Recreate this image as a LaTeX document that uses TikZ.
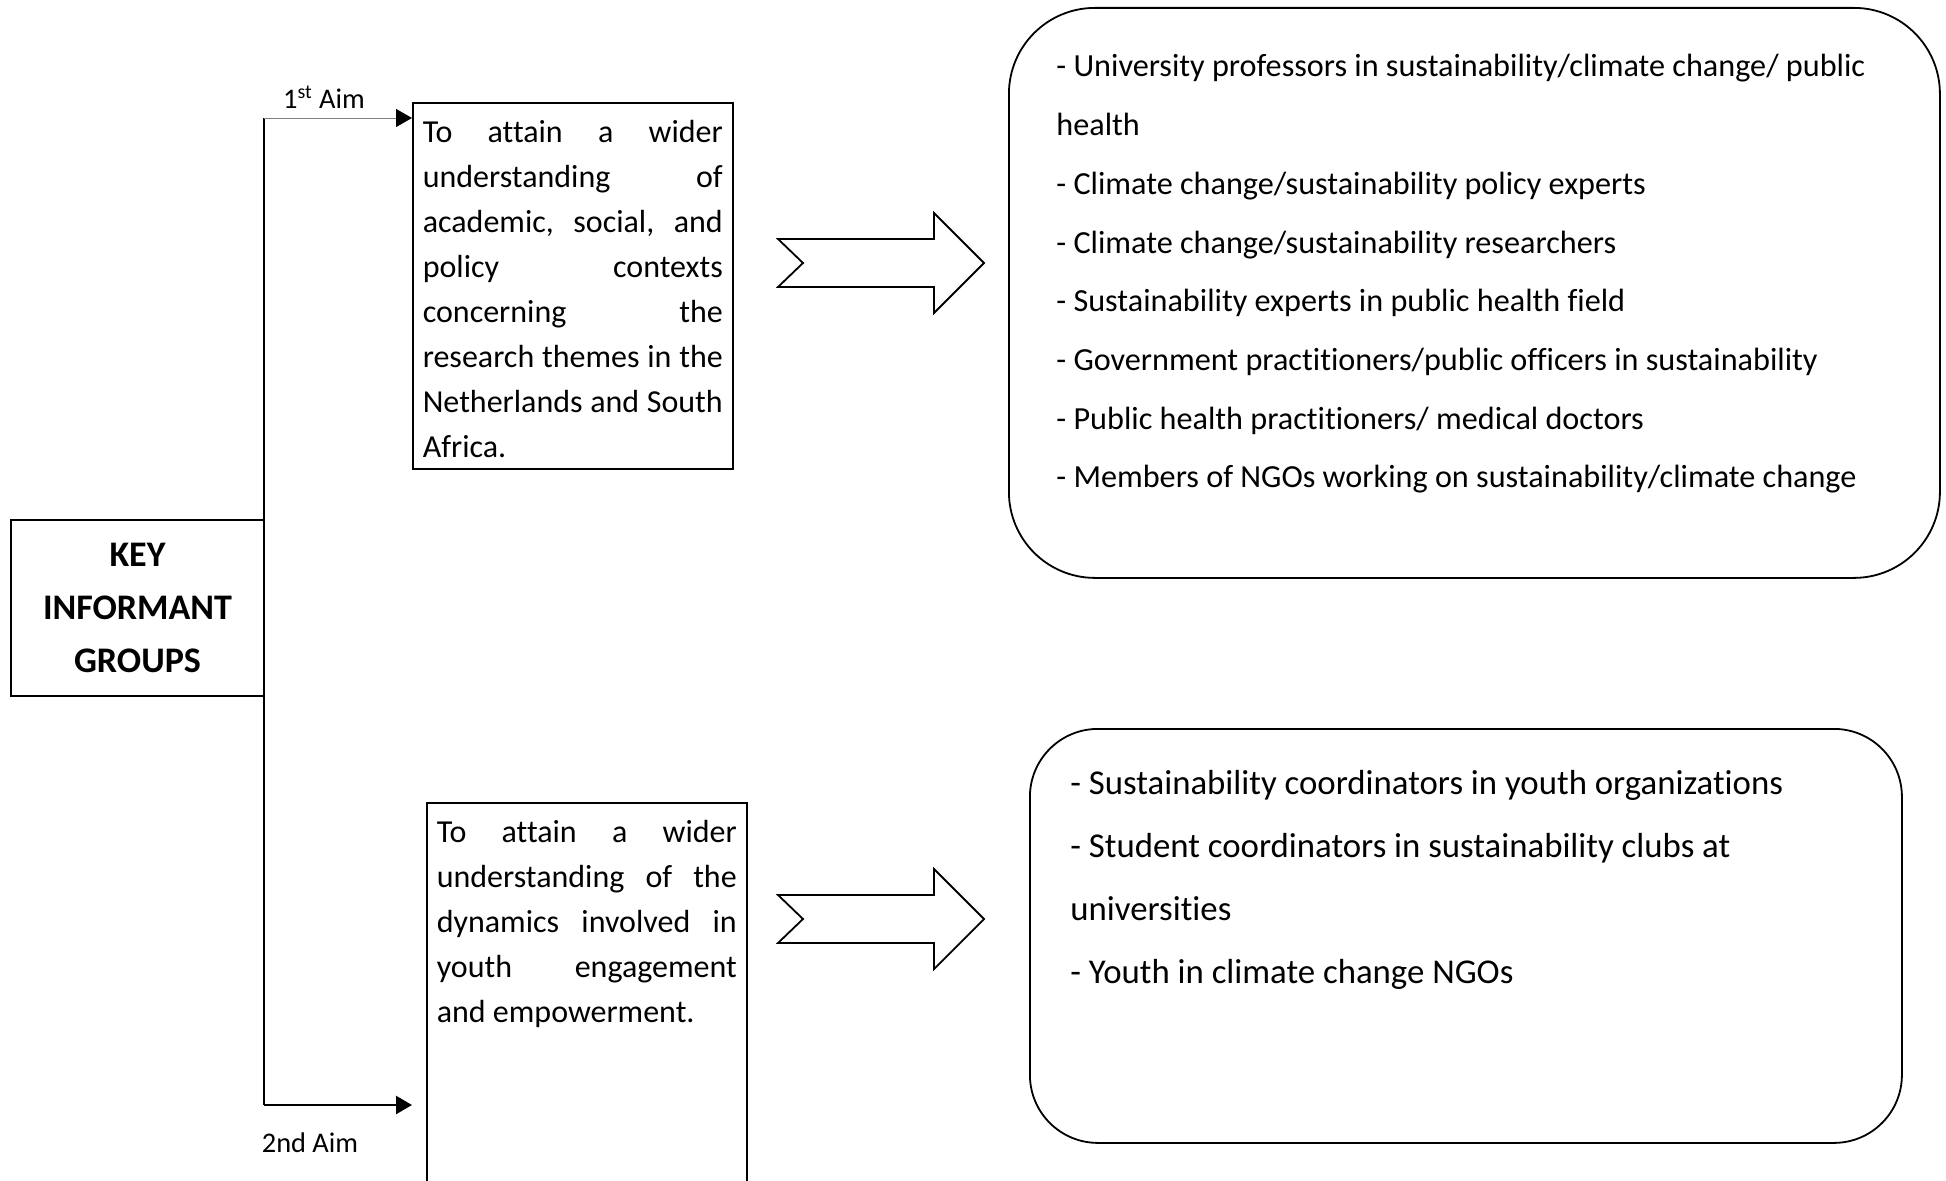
\documentclass[tikz,border=0pt]{standalone}
\usepackage{fontspec}
\setmainfont{Carlito}[Ligatures=NoCommon]
\usetikzlibrary{arrows.meta,calc}

\begin{document}
\begin{tikzpicture}[x=0.5pt,y=-0.5pt,
  keybox/.style={draw,line width=0.8pt,minimum width=126.5pt,minimum height=88pt,
    inner sep=0pt,align=center,font={\fontsize{18pt}{26.5pt}\selectfont\bfseries}},
  aimbox/.style={draw,line width=0.8pt,anchor=north west,inner xsep=5pt,inner ysep=0pt,
    font={\fontsize{16pt}{22.5pt}\selectfont}},
  groupbox/.style={draw,line width=0.9pt,anchor=north west,inner sep=0pt},
  grouptext/.style={anchor=base west,inner sep=0pt},
  aimlabel/.style={font={\fontsize{14.2pt}{16pt}\selectfont},inner sep=0pt},
  bigarrow/.style={draw,line width=0.9pt,fill=white,line join=miter},
  tip/.style={-{Triangle[length=8pt,width=9pt,black]}}
]
\useasboundingbox (0,0) rectangle (1946,1181);

% key informant box
\node[keybox] (key) at (137.5,608) {KEY\\INFORMANT\\GROUPS};

% aim boxes
\node[aimbox] (aim1) at (412,102) {\parbox[c][183pt][t]{150pt}{\hyphenpenalty=10000\rule{0pt}{20pt}To attain a wider\linebreak understanding of\linebreak academic, social, and\linebreak policy contexts\linebreak concerning the\linebreak research themes in the\linebreak Netherlands and South\linebreak Africa.}};
\node[aimbox] (aim2) at (426,802) {\parbox[c][200pt][t]{150pt}{\hyphenpenalty=10000\rule{0pt}{20pt}To attain a wider\linebreak understanding of the\linebreak dynamics involved in\linebreak youth engagement\linebreak and empowerment.}};

% branch connectors
\coordinate (j1) at (264,118);
\coordinate (j2) at (264,1105);
\draw[line width=0.75pt] (j1) -- (j2);
\draw[tip,gray,line width=0.4pt] (j1) -- (aim1.west |- j1);
\draw[tip,line width=1.2pt,shorten >=7pt] (j2) -- (aim2.west |- j2);
\node[aimlabel] (lab1) at (324,97) {1\textsuperscript{st} Aim};
\node[aimlabel] (lab2) at (310,1143) {2nd Aim};

% block arrows
\coordinate (t1) at (984,263);
\coordinate (t2) at (984,919);
\foreach \t in {t1,t2}{
  \draw[bigarrow] ($(\t)+(-206,-24)$) -- ($(\t)+(-50,-24)$) -- ($(\t)+(-50,-50)$) -- (\t)
    -- ($(\t)+(-50,50)$) -- ($(\t)+(-50,24)$) -- ($(\t)+(-206,24)$) -- ($(\t)+(-181,0)$) -- cycle;
}

% informant group boxes
\node[groupbox,rounded corners=43pt,minimum width=465.5pt,minimum height=285pt] (grp1) at (1008,7) {};
\node[grouptext,font={\fontsize{16.1pt}{29.35pt}\selectfont}] (txt1) at (1056,77) {\parbox[t]{440pt}{\raggedright
- University professors in sustainability/climate change/ public\\
health\\
- Climate change/sustainability policy experts\\
- Climate change/sustainability researchers\\
- Sustainability experts in public health field\\
- Government practitioners/public officers in sustainability\\
- Public health practitioners/ medical doctors\\
- Members of NGOs working on sustainability/climate change}};

\node[groupbox,rounded corners=34pt,minimum width=436pt,minimum height=207pt] (grp2) at (1029,728) {};
\node[grouptext,font={\fontsize{17.4pt}{31.65pt}\selectfont}] (txt2) at (1070,794) {\parbox[t]{400pt}{\raggedright
- Sustainability coordinators in youth organizations\\
- Student coordinators in sustainability clubs at\\
universities\\
- Youth in climate change NGOs}};
\end{tikzpicture}
\end{document}
